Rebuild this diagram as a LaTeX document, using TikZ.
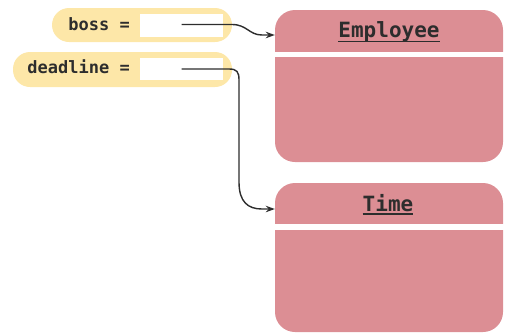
\documentclass[tikz,border=0pt]{standalone}
\usepackage{fontspec}
\usetikzlibrary{arrows.meta,calc}
\newfontfamily\codefont{DejaVu Sans Mono}
\definecolor{objpink}{RGB}{220,142,148}
\definecolor{varyellow}{RGB}{253,231,168}
\definecolor{ink}{RGB}{45,45,45}
\tikzset{
  pill/.style={fill=varyellow, rounded corners=17pt, inner sep=0pt},
  slot/.style={fill=white, inner sep=0pt, minimum width=83pt, minimum height=23pt},
  varlabel/.style={font=\codefont\bfseries\fontsize{17}{17}\selectfont, text=ink, inner sep=0pt, anchor=base east},
  objbox/.style={fill=objpink, rounded corners=20pt, minimum width=228pt, inner sep=0pt},
  classname/.style={font=\codefont\bfseries\fontsize{21}{21}\selectfont, text=ink, inner sep=0pt, anchor=base},
  ref/.style={draw=ink, line width=1.4pt, -{Stealth[length=9pt,width=6.5pt]}},
  uline/.style={draw=ink, line width=1.4pt}
}
\begin{document}
\begin{tikzpicture}[x=1pt, y=-1pt]
  \useasboundingbox (0,0) rectangle (505,333);

  % object boxes
  \node[objbox, minimum height=152pt] (emp) at (389,86) {};
  \node[objbox, minimum height=149pt] (time) at (389,257.5) {};
  \fill[white] ($(emp.west |- 0,52)+(-1,0)$) rectangle ($(emp.east |- 0,57)+(1,0)$);
  \fill[white] ($(time.west |- 0,224)+(-1,0)$) rectangle ($(time.east |- 0,230)+(1,0)$);

  % class names, underlined
  \node[classname] (empname) at (389,37.5) {Employee};
  \draw[uline] ($(empname.base west)+(0,4)$) -- ($(empname.base east)+(0,4)$);
  \node[classname] (timename) at (388,211) {Time};
  \draw[uline] ($(timename.base west)+(0,3)$) -- ($(timename.base east)+(0,3)$);

  % variables
  \node[pill, minimum width=180pt, minimum height=34pt] (bosspill) at (142,25) {};
  \node[pill, minimum width=219pt, minimum height=35pt] (dlpill) at (122.5,69.5) {};
  \node[slot] (bossslot) at (181.5,25.5) {};
  \node[slot, minimum height=22pt] (dlslot) at (181.5,69) {};
  \node[varlabel] (bosslabel) at (130,30) {boss =};
  \node[varlabel] (dllabel) at (130,73.5) {deadline =};

  % references
  \coordinate (empin) at (emp.west |- 0,35);
  \coordinate (timein) at (time.west |- 0,209);
  \draw[ref] ($(bossslot.center)+(0,-1)$) -- (232,24.5)
    .. controls (247,24.5) and (249,35) .. (262,35) -- (empin);
  \draw[ref] (dlslot.center) -- (229,69)
    .. controls (237,69) and (239,72) .. (239,80) -- (239,182)
    .. controls (239,202) and (248,209) .. (262,209) -- (timein);
\end{tikzpicture}
\end{document}
